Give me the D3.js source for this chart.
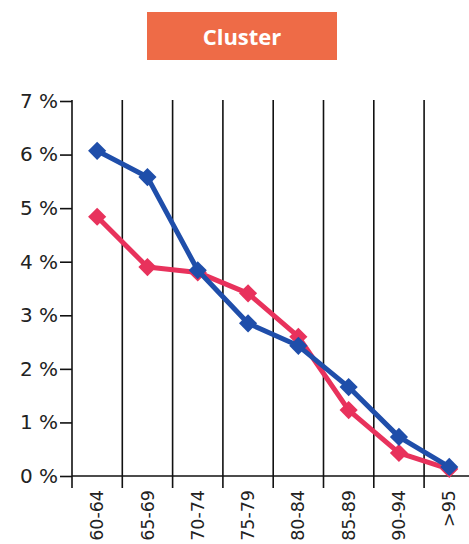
<!DOCTYPE html>
<html><head><meta charset="utf-8">
<script src="https://cdn.jsdelivr.net/npm/d3@7"></script>
<style>body{margin:0;background:#fff}svg{display:block}</style>
</head><body>
<svg id="c" width="469" height="544"></svg>
<script>
const categories = ["60-64","65-69","70-74","75-79","80-84","85-89","90-94",">95"];
const blueValues = [6.07,5.58,3.84,2.85,2.43,1.66,0.73,0.17];
const redValues  = [4.84,3.90,3.80,3.41,2.60,1.23,0.43,0.13];
const yTicks = [0,1,2,3,4,5,6,7];
const title = "Cluster";

const svg = d3.select("#c");
const x0 = 72, y0 = 476, yTop = 101;
const x = d3.scaleBand().domain(categories).range([x0, x0 + 50.3*8]).padding(0);
const y = d3.scaleLinear().domain([0,7]).range([y0, yTop]);

// title box
svg.append("rect").attr("x",147).attr("y",12).attr("width",190).attr("height",48).attr("fill","#ee6b47");
svg.append("text").attr("x",242).attr("y",45).attr("text-anchor","middle")
  .attr("font-family","Open Sans").attr("font-weight","bold").attr("font-size",22)
  .attr("fill","#fff").text(title);

// vertical gridlines at band boundaries
const g = svg.append("g");
categories.forEach((c,i)=>{
  if(i===0) return;
  g.append("line").attr("x1",x(c)).attr("x2",x(c)).attr("y1",yTop-1).attr("y2",488)
   .attr("stroke","#111").attr("stroke-width",1.6);
});
// y axis
const yAxis = svg.append("g").attr("transform",`translate(${x0},0)`)
  .call(d3.axisLeft(y).tickValues(yTicks).tickFormat(d=>d+" %").tickSize(12).tickPadding(2));
yAxis.select(".domain").remove();
yAxis.selectAll(".tick line").attr("stroke","#111").attr("stroke-width",1.6);
yAxis.selectAll(".tick text").attr("font-family","DejaVu Sans").attr("font-size",20).attr("fill","#222");
svg.append("line").attr("x1",x0).attr("x2",x0).attr("y1",yTop-1).attr("y2",488).attr("stroke","#111").attr("stroke-width",1.6);
svg.append("line").attr("x1",x0).attr("x2",469).attr("y1",y0).attr("y2",y0).attr("stroke","#111").attr("stroke-width",1.6);

// x labels
const xAxis = svg.append("g").attr("transform",`translate(0,${y0})`)
  .call(d3.axisBottom(x).tickSize(0));
xAxis.select(".domain").remove();
xAxis.selectAll(".tick text")
  .attr("font-family","DejaVu Sans").attr("font-size",17.5).attr("fill","#222")
  .attr("transform","rotate(-90)").attr("text-anchor","end")
  .attr("x",-14).attr("y",0).attr("dy","0.35em");

const cx = d => x(d) + x.bandwidth()/2;
function series(vals,color){
  const line = d3.line().x((d,i)=>cx(categories[i])).y(d=>y(d));
  svg.append("path").datum(vals).attr("d",line).attr("fill","none")
    .attr("stroke",color).attr("stroke-width",5).attr("stroke-linejoin","round");
  svg.append("g").selectAll("path").data(vals).join("path")
    .attr("d",d3.symbol().type(d3.symbolDiamond2).size(210))
    .attr("transform",(d,i)=>`translate(${cx(categories[i])},${y(d)})`)
    .attr("fill",color);
}
series(redValues,"#e8325c");
series(blueValues,"#1f4eaa");
</script>
</body></html>
